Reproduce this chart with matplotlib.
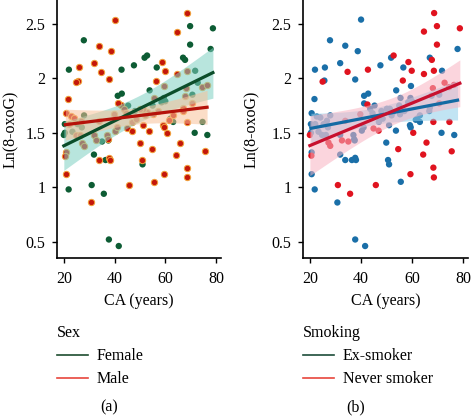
import numpy as np
import matplotlib
matplotlib.use("Agg")
import matplotlib.pyplot as plt
from matplotlib.lines import Line2D

# ---- data ----
age = [40.0, 68.7, 69.8, 78.8, 64.7, 27.8, 69.8, 33.8, 77.9, 38.7,
       52.8, 51.8, 67.0, 67.8, 58.6, 31.8, 47.6, 56.6, 25.8, 21.9,
       42.7, 34.7, 59.9, 64.7, 68.6, 71.8, 25.6, 24.9, 37.7, 56.4,
       59.6, 53.8, 68.2, 74.6, 72.8, 21.7, 41.2, 42.8, 42.5, 41.2,
       43.6, 45.3, 55.5, 59.4, 67.7, 70.7, 70.7, 58.5, 60.0, 67.0,
       66.8, 63.1, 52.6, 55.3, 63.1, 68.4, 74.7, 51.3, 52.0, 59.2,
       53.7, 59.5, 60.5, 71.6, 76.6, 65.7, 54.6, 64.4, 75.6, 68.4,
       59.4, 68.6, 55.6, 51.0, 50.6, 49.9, 20.6, 20.5, 20.6, 21.8,
       30.9, 30.7, 35.7, 37.7, 41.6, 45.8, 31.8, 33.8, 37.7, 38.0,
       36.4, 27.2, 27.9, 19.9, 20.3, 20.6, 20.3, 22.6, 22.0, 23.3,
       24.7, 26.2, 26.6, 27.9, 27.0, 31.8, 32.5, 33.8, 37.0, 37.3,
       39.7, 40.3, 41.0, 44.9, 46.9, 50.1, 51.0, 37.5, 55.0, 48.0,
       62.0, 35.0, 47.0, 48.5, 57.0, 61.5, 44.5, 76.5, 24.0, 25.3]
oxog = [2.54, 2.60, 2.48, 2.46, 2.43, 2.35, 2.31, 2.30, 2.27, 2.25,
        2.21, 2.19, 2.19, 2.17, 2.15, 2.14, 2.12, 2.10, 2.10, 2.08,
        2.08, 2.06, 2.07, 2.04, 2.07, 2.07, 1.98, 1.97, 1.99, 1.98,
        1.93, 1.89, 1.91, 1.92, 1.96, 1.81, 1.84, 1.86, 1.76, 1.77,
        1.72, 1.75, 1.82, 1.82, 1.84, 1.85, 1.77, 1.78, 1.79, 1.73,
        1.70, 1.66, 1.69, 1.67, 1.60, 1.60, 1.60, 1.72, 1.66, 1.57,
        1.52, 1.55, 1.50, 1.50, 1.48, 1.41, 1.35, 1.30, 1.33, 1.18,
        1.12, 1.09, 1.05, 1.21, 1.25, 1.41, 1.32, 1.29, 1.12, 0.98,
        1.02, 0.86, 0.94, 0.52, 0.46, 1.02, 1.30, 1.25, 1.27, 1.25,
        1.25, 1.41, 1.38, 1.48, 1.50, 1.68, 1.58, 1.65, 1.58, 1.51,
        1.48, 1.48, 1.61, 1.66, 1.55, 1.48, 1.43, 1.61, 1.48, 1.44,
        1.67, 1.52, 1.55, 1.54, 1.52, 1.72, 1.57, 1.43, 1.75, 1.70,
        1.63, 1.42, 1.60, 1.63, 1.70, 1.62, 1.68, 1.94, 1.64, 1.58]
sex = list("MMFFMFFMFM" "FFFFMMFFMF" "FMMMMFMMMM" "MFMMFMFFMM"
           "MFMFMFMFFM" "MMMMFMFMMM" "MMMFFMMMMM" "MMMFMMMMMF"
           "FMFFFMFMMM" "FMMFFMFMMF" "MMMFFMMMMM" "MMMMMMMFFF" "FFMMMMMMMF")
smoking = list("ENNNNENEEE" "NEENNEEEEE" "NNNNNEENEN" "EENNNEEENE"
               "EEEEEENEEE" "EEEEENNEEE" "EENEENNNNN" "NNEEEEENEE"
               "NENEENEEEE" "ENNNEEEEEE" "EEEEEENNEE" "NEENNEEEEE" "ENEEEEENEE")

sex_groups = ["Female", "Male"]
smoke_groups = ["Ex-smoker", "Never smoker"]

plt.rcParams["font.family"] = ["Liberation Serif", "DejaVu Serif"]
plt.rcParams["font.size"] = 11.5

age = np.asarray(age)
oxog = np.asarray(oxog)
sex = np.asarray(sex)
smoking = np.asarray(smoking)


def fit_ci(x, y, n_grid=100):
    n = len(x)
    b1, b0 = np.polyfit(x, y, 1)
    xs = np.linspace(x.min(), x.max(), n_grid)
    yhat = b0 + b1 * xs
    resid = y - (b0 + b1 * x)
    s = np.sqrt(np.sum(resid ** 2) / (n - 2))
    sxx = np.sum((x - x.mean()) ** 2)
    se = s * np.sqrt(1.0 / n + (xs - x.mean()) ** 2 / sxx)
    t = 1.96 + 2.4 / (n - 2)
    return xs, yhat, yhat - t * se, yhat + t * se


W, H = 471, 417
fig = plt.figure(figsize=(W / 100, H / 100), dpi=100)

def add_axes(l, r, b, t):
    return fig.add_axes([l / W, 1 - b / H, (r - l) / W, (b - t) / H])

axA = add_axes(57, 221, 258, 0)
axB = add_axes(303, 468, 258, 0)

panels = [
    (axA, sex, ["F", "M"], sex_groups,
     ["#0d5c34", "#c4170b"], ["none", "#f2a23a"],
     ["#7fd0c2", "#f8c29a"], ["#0b4d2a", "#b5120a"],
     ["#1d4d2f", "#e8453c"], "Sex", "(a)", -0.229),
    (axB, smoking, ["E", "N"], smoke_groups,
     ["#1a6fa8", "#e0131f"], ["none", "none"],
     ["#8fcfea", "#f8b4c2"], ["#136aa3", "#c8102e"],
     ["#1d4d3a", "#e8453c"], "Smoking", "(b)", -0.26),
]

for (ax, grp, codes, names, pcol, ecol, bcol, lcol, legcol,
     title, tag, ylx) in panels:
    for c, pc, ec in zip(codes, pcol, ecol):
        m = grp == c
        ax.scatter(age[m], oxog[m], s=21, facecolor=pc,
                   edgecolor=ec, linewidth=0.7 if ec != "none" else 0,
                   zorder=2)
    for c, bc, lc in zip(codes, bcol, lcol):
        m = grp == c
        xs, yh, lo, hi = fit_ci(age[m], oxog[m])
        ax.fill_between(xs, lo, hi, color=bc, alpha=0.55, lw=0, zorder=3)
        ax.plot(xs, yh, color=lc, lw=2.3, zorder=4)
    ax.set_xlim(17.2, 82)
    ax.set_ylim(0.35, 2.72)
    ax.set_xticks([20, 40, 60, 80])
    ax.set_yticks([0.5, 1, 1.5, 2, 2.5])
    ax.set_yticklabels(["0.5", "1", "1.5", "2", "2.5"])
    for sp in ["top", "right"]:
        ax.spines[sp].set_visible(False)
    for sp in ["left", "bottom"]:
        ax.spines[sp].set_linewidth(1.2)
    ax.tick_params(direction="out", length=3.5, width=1.0)
    ax.tick_params(axis="x", pad=6)
    ax.tick_params(axis="y", pad=5)
    ax.set_xlabel("CA (years)")
    ax.xaxis.set_label_coords(0.5, -0.134)
    ax.set_ylabel("Ln(8-oxoG)")
    ax.yaxis.set_label_coords(ylx, 0.5)
    handles = [Line2D([], [], color=lc, lw=1.2) for lc in legcol]
    x0 = ax.get_position().x0
    ax.legend(handles, names, title=title, loc="upper left",
              bbox_to_anchor=(x0, 1 - 325 / H), bbox_transform=fig.transFigure,
              frameon=False, borderpad=0, borderaxespad=0,
              handlelength=1.95, handletextpad=0.55, labelspacing=0.45,
              alignment="left", title_fontsize=11.5)
    pos = ax.get_position()
    fig.text((pos.x0 + pos.x1) / 2 - 30 / W, 1 - 407 / H, tag,
             ha="center", va="center")

fig.savefig("out.png", dpi=100)
